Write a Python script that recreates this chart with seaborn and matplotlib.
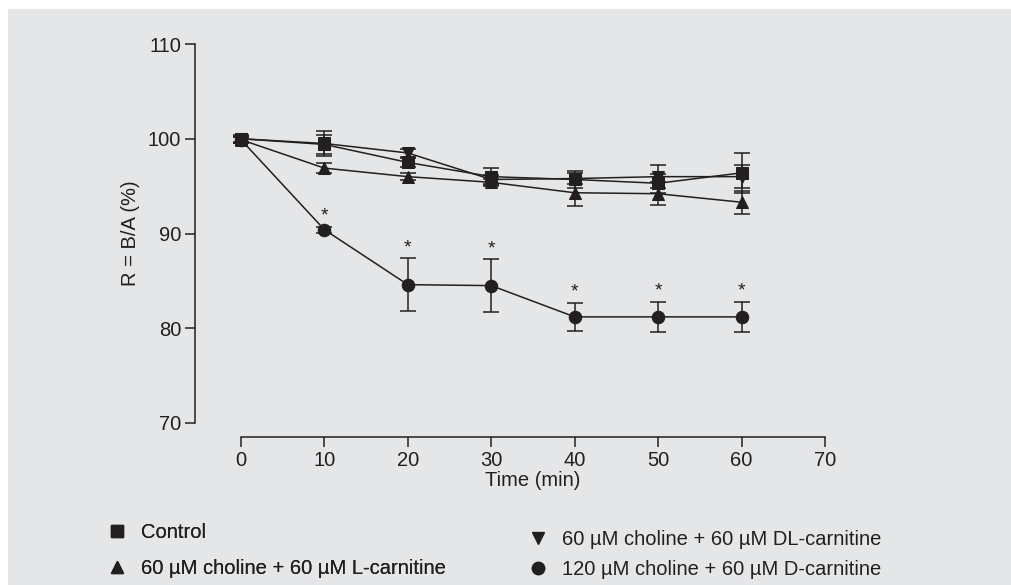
import matplotlib
matplotlib.use("Agg")
import matplotlib.pyplot as plt
from matplotlib.lines import Line2D
from matplotlib.patches import Rectangle
import seaborn as sns
import pandas as pd

# values
time_min = [0, 10, 20, 30, 40, 50, 60]
groups = ["Control",
          "60 µM choline + 60 µM L-carnitine",
          "60 µM choline + 60 µM DL-carnitine",
          "120 µM choline + 60 µM D-carnitine"]
control_mean = [100.0, 99.4, 97.5, 96.0, 95.7, 95.3, 96.4]
control_err = [0.4, 1.0, 0.5, 0.9, 0.9, 1.0, 2.1]
l_carn_mean = [99.9, 96.9, 96.0, 95.4, 94.3, 94.2, 93.3]
l_carn_err = [0.3, 0.5, 0.4, 0.4, 1.4, 1.2, 1.2]
dl_carn_mean = [100.0, 99.5, 98.5, 95.7, 95.8, 96.0, 96.0]
dl_carn_err = [0.3, 1.3, 0.4, 0.5, 0.6, 1.2, 1.2]
d_carn_mean = [99.9, 90.4, 84.6, 84.5, 81.2, 81.2, 81.2]
d_carn_err = [0.3, 0.3, 2.8, 2.8, 1.5, 1.6, 1.6]
signif = [False, True, True, True, True, True, True]  # asterisks on D-carnitine

ink = "#231f20"
panel = "#e5e6e7"
fs = 14.5

means = [control_mean, l_carn_mean, dl_carn_mean, d_carn_mean]
errs = [control_err, l_carn_err, dl_carn_err, d_carn_err]
marker_map = dict(zip(groups, ["s", "^", "v", "o"]))

df = pd.concat([pd.DataFrame({"time": time_min, "R": m, "err": e, "group": g})
                for g, m, e in zip(groups, means, errs)], ignore_index=True)

sns.set_style("ticks")
plt.rcParams["font.family"] = ["Liberation Sans Narrow", "Liberation Sans", "DejaVu Sans"]

fig = plt.figure(figsize=(10.11, 5.85), dpi=100)
fig.patches.append(Rectangle((8 / 1011, 0), 1, 1 - 9 / 585, transform=fig.transFigure,
                             facecolor=panel, edgecolor="none", zorder=-1))
ax = fig.add_axes([241 / 1011, 162 / 585, 584 / 1011, 379 / 585])
ax.set_facecolor("none")

sns.lineplot(data=df, x="time", y="R", style="group", markers=marker_map, dashes=False,
             color=ink, markersize=9, markeredgecolor=ink, linewidth=1.1,
             legend=False, ax=ax, clip_on=False, zorder=3)

for g in groups:
    sub = df[df["group"] == g]
    ax.errorbar(sub["time"], sub["R"], yerr=sub["err"], fmt="none", ecolor=ink,
                elinewidth=1.1, capsize=5.5, capthick=1.1, clip_on=False, zorder=2)

# significance marks above the D-carnitine points
d_sub = df[df["group"] == groups[3]]
for t, m, e, s in zip(d_sub["time"], d_sub["R"], d_sub["err"], signif):
    if s:
        ax.annotate("*", (t, m + e), xytext=(0, 1.5), textcoords="offset points",
                    ha="center", va="bottom", fontsize=14, color=ink)

ax.set_xlim(0, 70)
ax.set_ylim(70, 110)
ax.set_xticks(range(0, 71, 10))
ax.set_yticks(range(70, 111, 10))
ax.set_xlabel("Time (min)", fontsize=fs, color=ink, labelpad=1)
ax.set_ylabel("R = B/A (%)", fontsize=fs, color=ink, labelpad=6)
ax.tick_params(axis="both", labelsize=fs, colors=ink, length=7, width=1.1, pad=3)

sns.despine(ax=ax, offset={"left": 33, "bottom": 10})
for side in ["left", "bottom"]:
    ax.spines[side].set_linewidth(1.1)
    ax.spines[side].set_color(ink)
ax.spines["left"].set_bounds(70, 110)
ax.spines["bottom"].set_bounds(0, 70)

handles = [Line2D([], [], linestyle="none", marker=marker_map[g], color=ink,
                  markersize=9) for g in groups]
leg_kw = dict(loc="upper left", frameon=False, fontsize=fs, handlelength=0.7,
              handletextpad=0.85, borderpad=0, borderaxespad=0, labelcolor=ink)
# left column: Control / L-carnitine, right column: DL / D
leg_left = fig.legend(handles[:2], groups[:2], bbox_to_anchor=(110 / 1011, 1 - 523 / 585),
                      labelspacing=0.85, **leg_kw)
fig.legend(handles[2:], groups[2:], bbox_to_anchor=(531 / 1011, 1 - 530 / 585),
           labelspacing=0.55, **leg_kw)
fig.add_artist(leg_left)

fig.savefig("out.png", dpi=100, facecolor="white")
